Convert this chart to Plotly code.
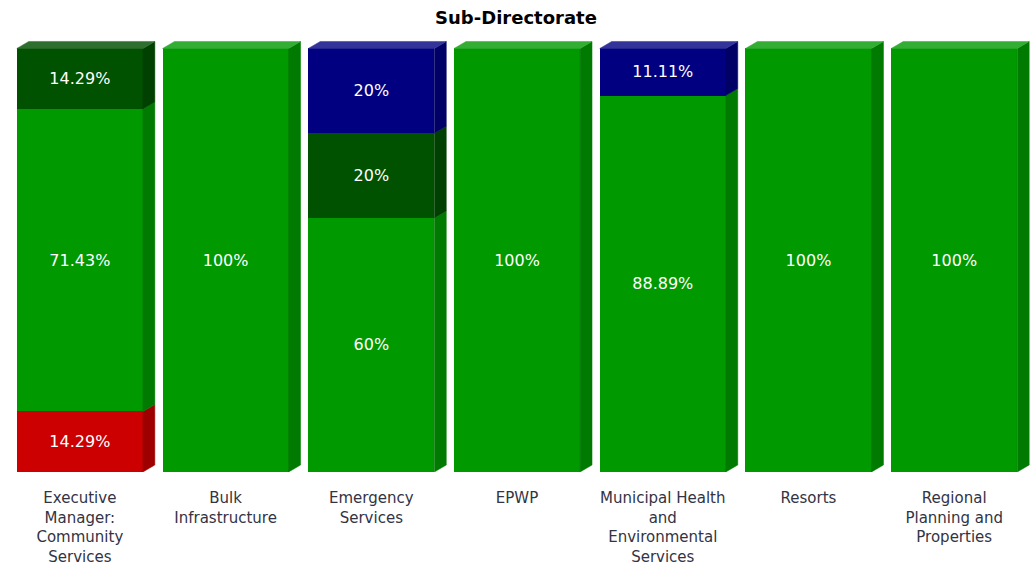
import plotly.graph_objects as go

categories = [
    "Executive<br>Manager:<br>Community<br>Services",
    "Bulk<br>Infrastructure",
    "Emergency<br>Services",
    "EPWP",
    "Municipal Health<br>and<br>Environmental<br>Services",
    "Resorts",
    "Regional<br>Planning and<br>Properties",
]
red_vals = [14.29, 0, 0, 0, 0, 0, 0]
green_vals = [71.43, 100, 60, 100, 88.89, 100, 100]
dark_green_vals = [14.29, 0, 20, 0, 0, 0, 0]
blue_vals = [0, 0, 20, 0, 11.11, 0, 0]

# (name, values, front, side, top)
series = [
    ("Red", red_vals, "#CC0000", "#9E0000", "#D63333"),
    ("Green", green_vals, "#009900", "#007A00", "#33AD33"),
    ("Dark Green", dark_green_vals, "#005200", "#004000", "#2E6E2E"),
    ("Blue", blue_vals, "#000080", "#000066", "#333399"),
]

w = 0.865     # bar width (category units)
dx = 0.082    # 3d depth in x
dy = 1.65     # 3d depth in y

totals = [sum(s[1][i] for s in series) for i in range(len(categories))]
xs = list(range(len(categories)))

fig = go.Figure()
base = [0.0] * len(categories)
sides = []
tops = []
for name, vals, front, side, top in series:
    fig.add_trace(go.Bar(
        x=xs,
        y=[v if v > 0 else None for v in vals],
        width=w,
        name=name,
        marker=dict(color=front, line=dict(width=0)),
        text=[f"{v:g}%" if v > 0 else "" for v in vals],
        textposition="inside",
        insidetextanchor="middle",
        textfont=dict(color="white", size=16, family="DejaVu Sans"),
        constraintext="none",
        showlegend=False,
        hoverinfo="x+y+name",
    ))
    sx, sy, tx, ty = [], [], [], []
    for i, v in enumerate(vals):
        if v <= 0:
            continue
        y0, y1 = base[i], base[i] + v
        xr = i + w / 2
        sx += [xr, xr + dx, xr + dx, xr, xr, None]
        sy += [y0, y0 + dy, y1 + dy, y1, y0, None]
        if abs(y1 - totals[i]) < 1e-6:
            xl = i - w / 2
            tx += [xl, xl + dx, xr + dx, xr, xl, None]
            ty += [y1, y1 + dy, y1 + dy, y1, y1, None]
        base[i] = y1
    sides.append((sx, sy, side))
    tops.append((tx, ty, top))

for px_, py_, col in sides + tops:
    if not px_:
        continue
    fig.add_trace(go.Scatter(
        x=px_, y=py_, mode="lines", fill="toself", fillcolor=col,
        line=dict(color=col, width=0.5), hoverinfo="skip", showlegend=False,
    ))

fig.update_layout(
    barmode="stack",
    width=1032,
    height=564,
    paper_bgcolor="white",
    plot_bgcolor="white",
    margin=dict(l=7, r=2, t=40, b=92),
    font=dict(family="DejaVu Sans", color="#333333"),
    title=dict(
        text="<b>Sub-Directorate</b>",
        x=0.5, xref="container", xanchor="center",
        y=1 - 18 / 564, yref="container", yanchor="middle",
        font=dict(size=18, color="#000000", family="DejaVu Sans"),
    ),
    xaxis=dict(
        range=[-0.5, 6.52],
        tickvals=xs,
        ticktext=categories,
        tickfont=dict(size=15, color="#333344"),
        showgrid=False, zeroline=False, showline=False, ticks="",
        ticklabelstandoff=15,
        automargin=False,
    ),
    yaxis=dict(
        range=[0, 102],
        showgrid=False, zeroline=False, showline=False,
        showticklabels=False, ticks="",
        automargin=False,
    ),
)

fig.write_html("out.html", config={"displayModeBar": False},
               post_script="document.body.style.margin='0';")
